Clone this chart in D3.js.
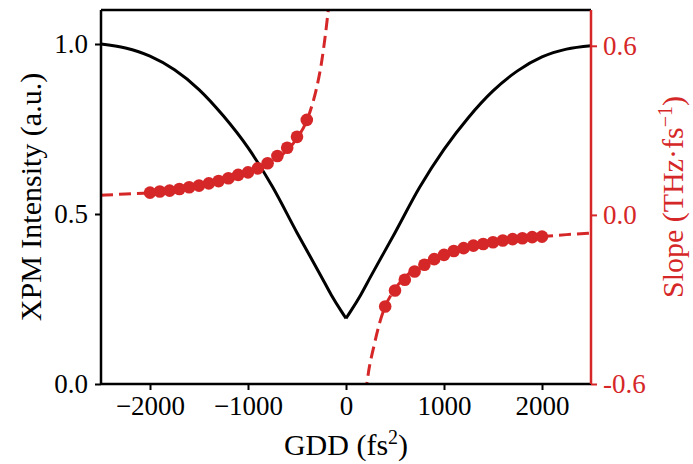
<!DOCTYPE html>
<html>
<head>
<meta charset="utf-8">
<script src="https://cdn.jsdelivr.net/npm/d3@7"></script>
<style>
  body { margin: 0; background: #fff; }
  svg { display: block; }
  text { font-family: "Liberation Serif", "Times New Roman", serif; }
</style>
</head>
<body>
<div id="chart"></div>
<script>
// XPM intensity (black curve)
const gdd = [-2500, -2250, -2000, -1750, -1500, -1250, -1000, -750, -500, -250, -150, -50, 0,
             50, 150, 250, 500, 750, 1000, 1250, 1500, 1750, 2000, 2250, 2500];
const intensity = [1.0, 0.988, 0.964, 0.924, 0.866, 0.788, 0.695, 0.58, 0.445, 0.315, 0.262, 0.215, 0.193,
                   0.215, 0.262, 0.315, 0.445, 0.578, 0.69, 0.784, 0.862, 0.921, 0.962, 0.985, 0.995];

// measured slope (red dots)
const dotGddLeft = [-2000, -1900, -1800, -1700, -1600, -1500, -1400, -1300, -1200,
                    -1100, -1000, -900, -800, -700, -600, -500, -400];
const slopeLeft = [0.079, 0.083, 0.086, 0.092, 0.098, 0.104, 0.112, 0.120, 0.130,
                   0.142, 0.151, 0.165, 0.183, 0.209, 0.238, 0.277, 0.337];
const dotGddRight = [400, 500, 600, 700, 800, 900, 1000, 1100, 1200,
                     1300, 1400, 1500, 1600, 1700, 1800, 1900, 2000];
const slopeRight = [-0.325, -0.268, -0.230, -0.201, -0.177, -0.157, -0.142, -0.128, -0.118,
                    -0.109, -0.103, -0.097, -0.091, -0.086, -0.083, -0.079, -0.077];

// fitted slope (red dashed)
const fitGddLeft = [-2500, -2250, -2000, -1500, -1000, -700, -500, -400, -350, -300, -250, -210, -175];
const fitSlopeLeft = [0.070, 0.074, 0.079, 0.101, 0.145, 0.200, 0.272, 0.335, 0.385, 0.45, 0.54, 0.64, 0.745];
const fitGddRight = [200, 231, 282, 350, 400, 500, 700, 1000, 1500, 2000, 2250, 2500];
const fitSlopeRight = [-0.635, -0.555, -0.47, -0.375, -0.325, -0.263, -0.192, -0.139, -0.097, -0.077, -0.070, -0.065];

const xTicks = [-2000, -1000, 0, 1000, 2000];
const leftTicks = [0.0, 0.5, 1.0];
const rightTicks = [-0.6, 0.0, 0.6];

const red = "#d62728";

var margin = {top: 10, right: 102, bottom: 80, left: 101},
    width = 693 - margin.left - margin.right,
    height = 464 - margin.top - margin.bottom;

var svg = d3.select("#chart").append("svg")
    .attr("width", 693)
    .attr("height", 464)
  .append("g")
    .attr("transform", "translate(" + margin.left + "," + margin.top + ")");

var x = d3.scaleLinear().domain([-2500, 2500]).range([0, width]);
var yL = d3.scaleLinear().domain([0, 1.1]).range([height, 0]);
var yR = d3.scaleLinear().domain([-0.6, 0.727]).range([height, 0]);

svg.append("clipPath").attr("id", "clip")
  .append("rect").attr("width", width).attr("height", height);

// black curve, drawn as two branches so the minimum keeps its sharp tip
var lineL = d3.line()
    .x(function(d) { return x(d[0]); })
    .y(function(d) { return yL(d[1]); })
    .curve(d3.curveMonotoneX);
var pts = gdd.map(function(g, i) { return [g, intensity[i]]; });
[pts.filter(function(d) { return d[0] <= 0; }), pts.filter(function(d) { return d[0] >= 0; })]
  .forEach(function(branch) {
    svg.append("path")
      .attr("d", lineL(branch))
      .attr("fill", "none")
      .attr("stroke", "#000")
      .attr("stroke-width", 3);
  });

// red fit, dashed
var lineR = d3.line()
    .x(function(d) { return x(d[0]); })
    .y(function(d) { return yR(d[1]); })
    .curve(d3.curveMonotoneX);
[[fitGddLeft, fitSlopeLeft], [fitGddRight, fitSlopeRight]].forEach(function(f) {
  svg.append("path")
    .attr("clip-path", "url(#clip)")
    .attr("d", lineR(f[0].map(function(g, i) { return [g, f[1][i]]; })))
    .attr("fill", "none")
    .attr("stroke", red)
    .attr("stroke-width", 3)
    .attr("stroke-dasharray", "12,6");
});

// red dots
var dots = dotGddLeft.map(function(g, i) { return [g, slopeLeft[i]]; })
  .concat(dotGddRight.map(function(g, i) { return [g, slopeRight[i]]; }));
svg.selectAll("circle.dot")
    .data(dots)
  .enter().append("circle")
    .attr("class", "dot")
    .attr("cx", function(d) { return x(d[0]); })
    .attr("cy", function(d) { return yR(d[1]); })
    .attr("r", 6.3)
    .attr("fill", red);

// axes
var fmtX = function(d) { return d < 0 ? "\u2212" + Math.abs(d) : d; };
var gx = svg.append("g")
    .attr("transform", "translate(0," + height + ")")
    .call(d3.axisBottom(x).tickValues(xTicks).tickFormat(fmtX).tickSize(6).tickPadding(6));
var gl = svg.append("g")
    .call(d3.axisLeft(yL).tickValues(leftTicks).tickFormat(d3.format(".1f")).tickSize(6).tickPadding(7));
var gr = svg.append("g")
    .attr("transform", "translate(" + width + ",0)")
    .call(d3.axisRight(yR).tickValues(rightTicks).tickFormat(function(d) { return d.toFixed(1); }).tickSize(6).tickPadding(6));

[gx, gl, gr].forEach(function(g) {
  g.selectAll("text").style("font-size", "27px").attr("fill", g === gr ? red : "#000");
  g.selectAll("line").attr("stroke", g === gr ? red : "#000").attr("stroke-width", 2);
  g.select(".domain").remove();
});

// spines
svg.append("line").attr("x1", 0).attr("x2", width).attr("y1", 0).attr("y2", 0)
    .attr("stroke", "#000").attr("stroke-width", 2.5);
svg.append("line").attr("x1", 0).attr("x2", width).attr("y1", height).attr("y2", height)
    .attr("stroke", "#000").attr("stroke-width", 2.5);
svg.append("line").attr("x1", 0).attr("x2", 0).attr("y1", 0).attr("y2", height)
    .attr("stroke", "#000").attr("stroke-width", 2.5);
svg.append("line").attr("x1", width).attr("x2", width).attr("y1", 0).attr("y2", height)
    .attr("stroke", red).attr("stroke-width", 2.5);

// axis labels
var xl = svg.append("text")
    .attr("x", width / 2)
    .attr("y", height + 71)
    .attr("text-anchor", "middle")
    .style("font-size", "30px");
xl.append("tspan").text("GDD (fs");
xl.append("tspan").attr("dy", -11).style("font-size", "20px").text("2");
xl.append("tspan").attr("dy", 11).text(")");

svg.append("text")
    .attr("transform", "translate(-60," + (height / 2) + ") rotate(-90)")
    .attr("text-anchor", "middle")
    .style("font-size", "30px")
    .text("XPM Intensity (a.u.)");

var rl = svg.append("text")
    .attr("transform", "translate(" + (width + 92) + "," + (height / 2) + ") rotate(-90)")
    .attr("text-anchor", "middle")
    .attr("fill", red)
    .style("font-size", "30px");
rl.append("tspan").text("Slope (THz\u00b7fs");
rl.append("tspan").attr("dy", -11).style("font-size", "20px").text("\u22121");
rl.append("tspan").attr("dy", 11).text(")");
</script>
</body>
</html>
